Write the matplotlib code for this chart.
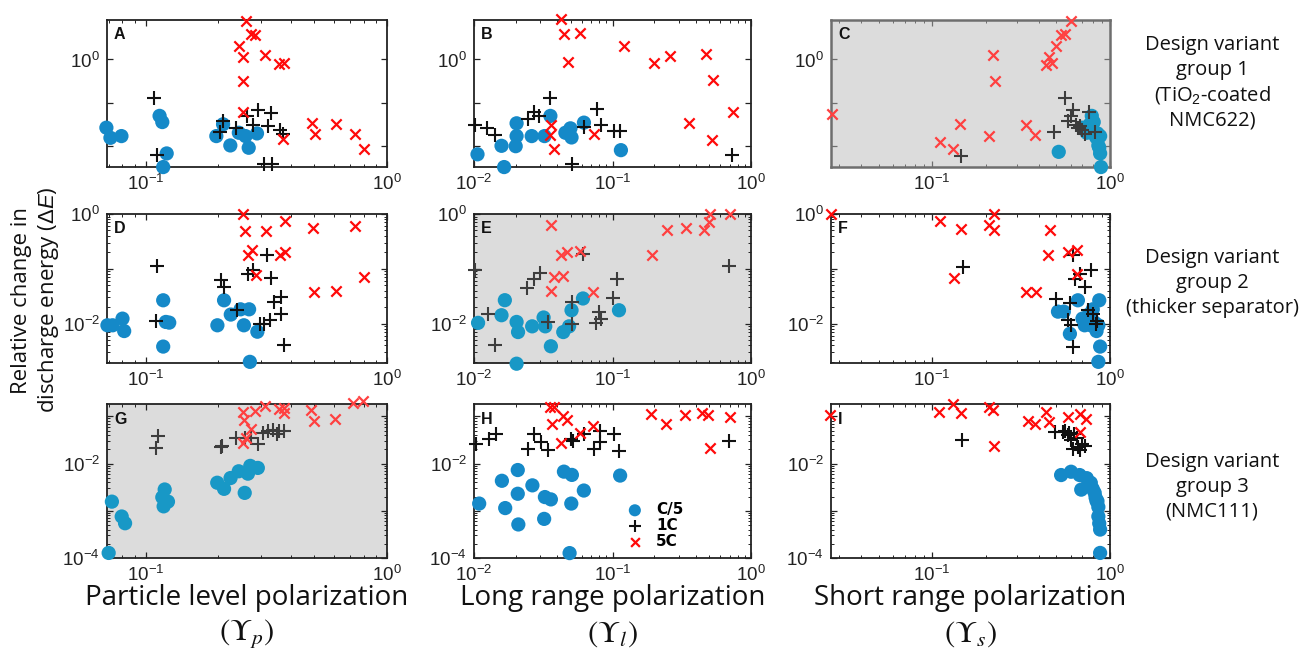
import matplotlib
matplotlib.use('Agg')
import numpy as np
import matplotlib.pyplot as plt
from matplotlib.ticker import LogLocator, FuncFormatter, NullLocator, NullFormatter

plt.rcParams['font.family'] = ['Liberation Sans', 'DejaVu Sans']
plt.rcParams['mathtext.fontset'] = 'custom'
plt.rcParams['mathtext.rm'] = 'Liberation Sans'
plt.rcParams['mathtext.it'] = 'Liberation Sans:italic'
plt.rcParams['mathtext.bf'] = 'Liberation Sans:bold'

# ---------------- data ----------------
A_c5_x = [0.0686, 0.0713, 0.0792, 0.114, 0.117, 0.122, 0.118, 0.196, 0.209, 0.224, 0.243, 0.259, 0.267, 0.289]
A_c5_y = [0.0267, 0.0156, 0.0171, 0.050, 0.036, 0.0068, 0.0033, 0.0171, 0.032, 0.0104, 0.0204, 0.0171, 0.0092, 0.0197]
A_1c_x = [0.108, 0.111, 0.208, 0.203, 0.237, 0.263, 0.293, 0.329, 0.277, 0.321, 0.360, 0.371, 0.310, 0.334]
A_1c_y = [0.126, 0.0064, 0.0381, 0.0212, 0.0267, 0.0499, 0.0675, 0.0596, 0.0303, 0.0292, 0.0236, 0.0187, 0.0038, 0.0038]
A_5c_x = [0.261, 0.273, 0.284, 0.243, 0.253, 0.311, 0.358, 0.373, 0.253, 0.253, 0.487, 0.613, 0.501, 0.738, 0.805, 0.371]
A_5c_y = [7.9, 3.95, 3.6, 2.0, 1.11, 1.24, 0.78, 0.84, 0.32, 0.060, 0.034, 0.032, 0.0187, 0.0187, 0.0087, 0.0143]

B_c5_x = [0.0106, 0.0165, 0.0158, 0.0203, 0.0203, 0.0200, 0.0261, 0.0323, 0.0356, 0.0457, 0.0497, 0.0506, 0.0622, 0.115]
B_c5_y = [0.0065, 0.0033, 0.0102, 0.0337, 0.0171, 0.0100, 0.0171, 0.0171, 0.0499, 0.0204, 0.0258, 0.0159, 0.0349, 0.0081]
B_1c_x = [0.0101, 0.0125, 0.0141, 0.0244, 0.0269, 0.0296, 0.0352, 0.0778, 0.0622, 0.0822, 0.1028, 0.113, 0.0506, 0.728]
B_1c_y = [0.0308, 0.0267, 0.0180, 0.0417, 0.0629, 0.0499, 0.1284, 0.0713, 0.0282, 0.0308, 0.0227, 0.0227, 0.0038, 0.0062]
B_5c_x = [0.0425, 0.0445, 0.0582, 0.0479, 0.1216, 0.198, 0.259, 0.473, 0.535, 0.739, 0.357, 0.520, 0.0361, 0.0356, 0.038, 0.0736]
B_5c_y = [8.5, 3.81, 4.17, 0.883, 2.04, 0.807, 1.195, 1.31, 0.331, 0.0607, 0.0349, 0.0138, 0.0308, 0.018, 0.0088, 0.019]

C_c5_x = [0.515, 0.70, 0.74, 0.77, 0.79, 0.81, 0.83, 0.84, 0.85, 0.86, 0.87, 0.88, 0.89, 0.88]
C_c5_y = [0.0074, 0.0267, 0.0204, 0.032, 0.050, 0.036, 0.0171, 0.0156, 0.0197, 0.0104, 0.0092, 0.0068, 0.0033, 0.0171]
C_1c_x = [0.146, 0.484, 0.56, 0.58, 0.60, 0.62, 0.64, 0.66, 0.68, 0.70, 0.72, 0.76, 0.82]
C_1c_y = [0.0059, 0.0216, 0.126, 0.038, 0.050, 0.0675, 0.030, 0.0267, 0.0292, 0.0236, 0.0187, 0.060, 0.0212]
C_5c_x = [0.0274, 0.110, 0.131, 0.144, 0.208, 0.220, 0.225, 0.338, 0.377, 0.438, 0.454, 0.47, 0.50, 0.53, 0.56, 0.60]
C_5c_y = [0.0555, 0.0126, 0.0085, 0.0325, 0.0171, 1.26, 0.313, 0.0308, 0.018, 0.765, 1.13, 0.84, 2.0, 3.6, 3.95, 7.9]

D_c5_x = [0.0693, 0.0728, 0.080, 0.0813, 0.118, 0.118, 0.121, 0.125, 0.198, 0.211, 0.225, 0.247, 0.268, 0.255, 0.290, 0.270]
D_c5_y = [0.0093, 0.0093, 0.0123, 0.0073, 0.0266, 0.0038, 0.0107, 0.0104, 0.0093, 0.0266, 0.0146, 0.0182, 0.0182, 0.0093, 0.0071, 0.0020]
D_1c_x = [0.111, 0.110, 0.204, 0.211, 0.239, 0.264, 0.279, 0.318, 0.331, 0.362, 0.340, 0.362, 0.297, 0.309, 0.327, 0.373]
D_1c_y = [0.112, 0.011, 0.0614, 0.0464, 0.0175, 0.0811, 0.0933, 0.180, 0.0677, 0.0305, 0.0248, 0.0152, 0.010, 0.010, 0.0115, 0.0040]
D_5c_x = [0.2535, 0.2575, 0.314, 0.376, 0.492, 0.739, 0.264, 0.275, 0.360, 0.376, 0.285, 0.805, 0.500, 0.617]
D_5c_y = [1.0, 0.498, 0.498, 0.736, 0.549, 0.614, 0.180, 0.216, 0.180, 0.201, 0.0757, 0.0705, 0.0377, 0.0387]

E_c5_x = [0.0107, 0.0167, 0.0158, 0.0203, 0.0208, 0.0263, 0.0318, 0.0327, 0.0359, 0.0441, 0.0486, 0.0506, 0.0612, 0.1114, 0.0203]
E_c5_y = [0.0103, 0.0267, 0.0142, 0.0107, 0.0070, 0.0089, 0.0129, 0.0089, 0.00385, 0.0070, 0.0089, 0.0175, 0.0287, 0.0175, 0.00185]
E_1c_x = [0.0102, 0.0127, 0.0142, 0.0242, 0.027, 0.0301, 0.0345, 0.0506, 0.0506, 0.0612, 0.0804, 0.0826, 0.0762, 0.101, 0.1086, 0.693]
E_1c_y = [0.0946, 0.0152, 0.0040, 0.0437, 0.0638, 0.0822, 0.0107, 0.0249, 0.0100, 0.185, 0.0163, 0.0123, 0.0103, 0.0299, 0.0638, 0.112]
E_5c_x = [0.0359, 0.0423, 0.0471, 0.058, 0.0379, 0.0441, 0.0359, 0.0721, 0.192, 0.246, 0.341, 0.456, 0.500, 0.508, 0.705]
E_5c_y = [0.629, 0.178, 0.205, 0.213, 0.0714, 0.0734, 0.039, 0.038, 0.178, 0.51, 0.547, 0.51, 0.724, 1.0, 1.0]

F_c5_x = [0.51, 0.55, 0.595, 0.66, 0.70, 0.72, 0.74, 0.76, 0.78, 0.80, 0.82, 0.84, 0.86, 0.87, 0.88, 0.86]
F_c5_y = [0.0165, 0.0165, 0.0065, 0.0266, 0.0123, 0.0093, 0.0107, 0.0146, 0.0093, 0.0182, 0.0104, 0.0073, 0.0093, 0.0266, 0.0038, 0.0020]
F_1c_x = [0.150, 0.50, 0.595, 0.634, 0.621, 0.582, 0.62, 0.60, 0.68, 0.72, 0.75, 0.78, 0.80, 0.83, 0.85]
F_1c_y = [0.106, 0.028, 0.0236, 0.0642, 0.175, 0.0115, 0.0037, 0.0093, 0.0811, 0.0464, 0.0175, 0.0933, 0.0152, 0.0100, 0.0110]
F_5c_x = [0.0271, 0.110, 0.145, 0.208, 0.224, 0.224, 0.133, 0.338, 0.385, 0.458, 0.448, 0.58, 0.652, 0.652]
F_5c_y = [1.0, 0.73, 0.533, 0.633, 1.0, 0.511, 0.069, 0.0373, 0.0373, 0.511, 0.175, 0.201, 0.216, 0.0796]

G_c5_x = [0.0723, 0.0794, 0.082, 0.0701, 0.1197, 0.117, 0.1235, 0.1185, 0.1977, 0.211, 0.2245, 0.2427, 0.257, 0.265, 0.271, 0.2913]
G_c5_y = [0.00156, 0.000756, 0.000544, 0.000128, 0.00282, 0.00193, 0.00156, 0.00124, 0.00392, 0.00291, 0.00493, 0.00685, 0.00239, 0.0061, 0.00891, 0.00807]
G_1c_x = [0.1123, 0.110, 0.204, 0.2075, 0.2367, 0.257, 0.2735, 0.2913, 0.3075, 0.320, 0.338, 0.349, 0.356, 0.375]
G_1c_y = [0.0385, 0.0217, 0.0228, 0.0239, 0.0355, 0.0343, 0.0343, 0.0255, 0.044, 0.0493, 0.0501, 0.0418, 0.0493, 0.0493]
G_5c_x = [0.252, 0.256, 0.284, 0.312, 0.2735, 0.261, 0.253, 0.356, 0.375, 0.375, 0.485, 0.498, 0.609, 0.726, 0.798]
G_5c_y = [0.124, 0.0849, 0.128, 0.164, 0.0545, 0.0343, 0.0268, 0.146, 0.151, 0.118, 0.139, 0.0807, 0.0891, 0.193, 0.210]

H_c5_x = [0.0109, 0.0159, 0.0168, 0.0207, 0.0207, 0.0209, 0.0264, 0.0325, 0.0321, 0.0359, 0.0446, 0.0509, 0.0504, 0.0621, 0.1135, 0.049]
H_c5_y = [0.00142, 0.00431, 0.00114, 0.00728, 0.00229, 0.000513, 0.00345, 0.00195, 0.000673, 0.00174, 0.00673, 0.00574, 0.00142, 0.00268, 0.00556, 0.000127]
H_1c_x = [0.0104, 0.0129, 0.0143, 0.0247, 0.0273, 0.0304, 0.0343, 0.0504, 0.0518, 0.0621, 0.074, 0.0817, 0.0817, 0.1028, 0.1116, 0.692]
H_1c_y = [0.0259, 0.0329, 0.0418, 0.0204, 0.0418, 0.0281, 0.0189, 0.0329, 0.0304, 0.0418, 0.0204, 0.049, 0.029, 0.0418, 0.018, 0.0304]
H_5c_x = [0.0353, 0.0379, 0.0363, 0.044, 0.0469, 0.0423, 0.0578, 0.072, 0.190, 0.2445, 0.334, 0.44, 0.49, 0.504, 0.70]
H_5c_y = [0.156, 0.156, 0.0673, 0.10, 0.0853, 0.0272, 0.0438, 0.0621, 0.1135, 0.0673, 0.108, 0.117, 0.108, 0.0211, 0.0969]

I_c5_x = [0.531, 0.604, 0.675, 0.689, 0.74, 0.78, 0.80, 0.82, 0.83, 0.84, 0.85, 0.86, 0.86, 0.87, 0.88, 0.88]
I_c5_y = [0.0057, 0.0067, 0.0057, 0.0028, 0.0049, 0.0039, 0.0029, 0.0024, 0.0019, 0.0016, 0.0016, 0.0012, 0.00076, 0.00054, 0.0004, 0.000128]
I_1c_x = [0.148, 0.488, 0.542, 0.58, 0.604, 0.618, 0.675, 0.56, 0.59, 0.63, 0.65, 0.70, 0.72, 0.66]
I_1c_y = [0.032, 0.0465, 0.0465, 0.0394, 0.031, 0.0207, 0.0191, 0.050, 0.044, 0.042, 0.035, 0.026, 0.024, 0.0228]
I_5c_x = [0.0266, 0.109, 0.131, 0.1445, 0.209, 0.2205, 0.223, 0.344, 0.380, 0.436, 0.456, 0.58, 0.675, 0.675, 0.73]
I_5c_y = [0.109, 0.122, 0.178, 0.117, 0.161, 0.133, 0.0232, 0.079, 0.0695, 0.122, 0.0753, 0.096, 0.113, 0.0465, 0.088]

panel_letters = ['A', 'B', 'C', 'D', 'E', 'F', 'G', 'H', 'I']
gray_panels = ['C', 'E', 'G']
series_labels = ['C/5', '1C', '5C']
x_titles = ['Particle level polarization', 'Long range polarization', 'Short range polarization']
x_symbols = [r'$(\mathit{\Upsilon}_{p})$', r'$(\mathit{\Upsilon}_{l})$', r'$(\mathit{\Upsilon}_{s})$']
group_labels = ['Design variant\ngroup 1\n(TiO$_2$-coated\nNMC622)',
                'Design variant\ngroup 2\n(thicker separator)',
                'Design variant\ngroup 3\n(NMC111)']
y_title = 'Relative change in\ndischarge energy ($\\Delta E$)'

# x tick decades labelled per column, y per row
x_label_decades = [(-1, 0), (-2, -1, 0), (-1, 0)]
y_label_decades = [(0,), (0, -2), (-2, -4)]
x_limits = [(0.069, 1.0), (0.01, 1.0), (0.027, 1.0)]
y_limits = [(10 ** -2.48, 10 ** 0.91), (10 ** -2.72, 1.0), (1e-4, 10 ** -0.74)]

g = globals()
data = {p: [(g[f'{p}_c5_x'], g[f'{p}_c5_y']),
            (g[f'{p}_1c_x'], g[f'{p}_1c_y']),
            (g[f'{p}_5c_x'], g[f'{p}_5c_y'])] for p in panel_letters}

# ---------------- layout ----------------
W, H = 1308, 655
fig = plt.figure(figsize=(W / 100, H / 100), dpi=100)
col_px = [(107, 280), (474, 277), (831, 279)]
row_px = [(20, 167), (214, 363), (404, 558)]

BLUE, BLUE_G = '#1589c8', '#1898c6'
BLACK, BLACK_G = '#111111', '#3d3d3d'
RED, RED_G = '#ff0a0a', '#ff4040'


def make_fmt(decs):
    def f(v, pos):
        e = int(round(np.log10(v)))
        if e in decs and abs(np.log10(v) - e) < 1e-6:
            return r'$10^{%d}$' % e
        return ''
    return FuncFormatter(f)


axes = {}
for r in range(3):
    for c in range(3):
        p = panel_letters[r * 3 + c]
        l, w = col_px[c]
        t, b = row_px[r]
        ax = fig.add_axes([l / W, 1 - b / H, w / W, (b - t) / H])
        axes[p] = ax
        gray = p in gray_panels
        ax.set_xscale('log')
        ax.set_yscale('log')
        ax.set_xlim(*x_limits[c])
        ax.set_ylim(*y_limits[r])
        if gray:
            ax.set_facecolor('#dcdcdc')
        frame_col = '#6e6e6e' if p == 'C' else '#222222'
        for s in ax.spines.values():
            s.set_color(frame_col)
            s.set_linewidth(1.8 if p == 'C' else 1.3)

        (x5, y5), (x1, y1), (xf, yf) = data[p]
        ax.scatter(x5, y5, s=105, marker='o', color=BLUE_G if gray else BLUE,
                   edgecolors='none', clip_on=False, zorder=3, label=series_labels[0])
        ax.scatter(x1, y1, s=95, marker='+', color=BLACK_G if gray else BLACK,
                   linewidths=1.5, clip_on=False, zorder=4, label=series_labels[1])
        ax.scatter(xf, yf, s=55, marker='x', color=RED_G if gray else RED,
                   linewidths=1.6, clip_on=False, zorder=5, label=series_labels[2])

        ax.xaxis.set_major_locator(LogLocator(base=10, numticks=12))
        ax.xaxis.set_minor_locator(LogLocator(base=10, subs=np.arange(2, 10), numticks=12))
        ax.xaxis.set_major_formatter(make_fmt(x_label_decades[c]))
        ax.xaxis.set_minor_formatter(NullFormatter())
        ax.yaxis.set_major_locator(LogLocator(base=10, numticks=12))
        if r == 0:
            ax.yaxis.set_minor_locator(NullLocator())
        else:
            ax.yaxis.set_minor_locator(LogLocator(base=10, subs=np.arange(2, 10), numticks=12))
        ax.yaxis.set_major_formatter(make_fmt(y_label_decades[r]))
        ax.yaxis.set_minor_formatter(NullFormatter())
        ax.tick_params(which='both', direction='in', top=True, right=True,
                       colors=frame_col, labelcolor='#222222', labelsize=13.5)
        ax.tick_params(which='major', length=4, width=0.9, pad=5)
        ax.tick_params(which='minor', length=2, width=0.7)

        ax.text(0.025, 0.90, p, transform=ax.transAxes, ha='left', va='center',
                fontsize=11.5, fontweight='bold', color='#111111', zorder=6)

# legend in panel H
leg = axes['H'].legend(loc='lower left', bbox_to_anchor=(0.52, 0.0), frameon=False,
                       handlelength=1.0, handletextpad=0.9, labelspacing=0.05,
                       markerscale=0.85, borderaxespad=0.2,
                       prop={'family': 'DejaVu Sans', 'weight': 'bold', 'size': 11})

# column labels
for c in range(3):
    l, w = col_px[c]
    xc = (l + w / 2) / W
    fig.text(xc, 1 - 598 / H, x_titles[c], ha='center', va='center',
             fontsize=20, family='Open Sans', color='#111111')
    fig.text(xc, 1 - 634 / H, x_symbols[c], ha='center', va='center',
             fontsize=22, math_fontfamily='stix', color='#111111')

# row labels
row_centers = [83, 283, 487]
for r in range(3):
    fig.text(1212 / W, 1 - row_centers[r] / H, group_labels[r], ha='center', va='center',
             fontsize=14.5, family='Open Sans', linespacing=1.3, color='#111111')

fig.text(36 / W, 1 - 300 / H, y_title, ha='center', va='center', rotation=90,
         fontsize=16, family='Open Sans', linespacing=1.2, color='#111111')

fig.savefig('out.png', dpi=100)
